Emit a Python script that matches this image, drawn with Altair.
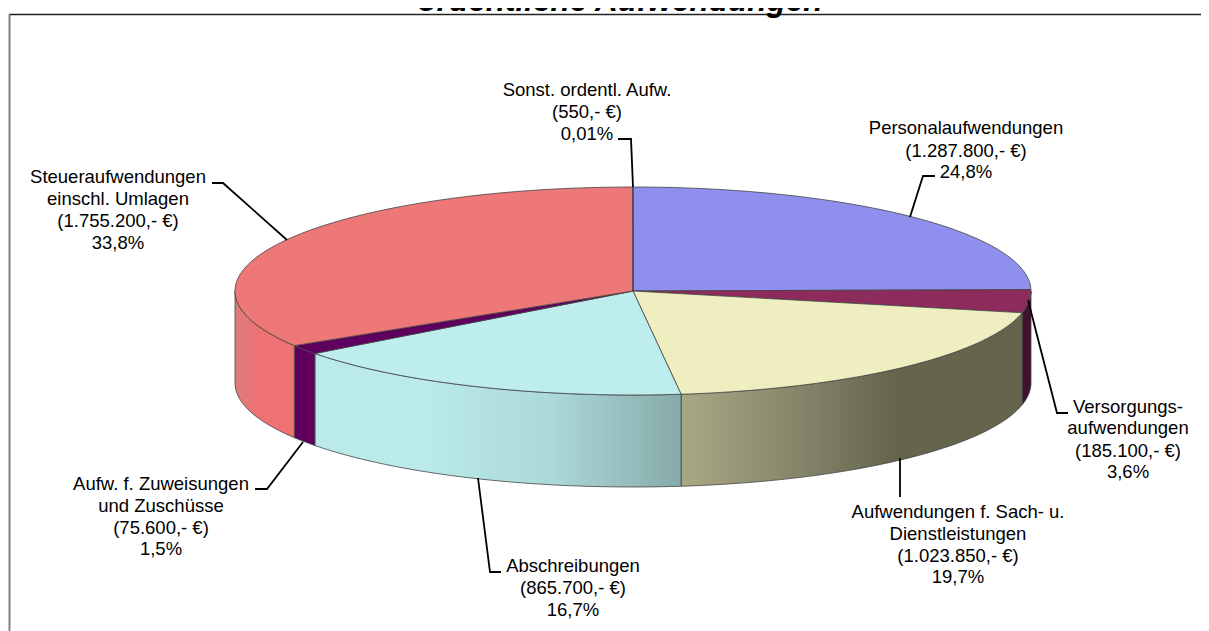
import math
import altair as alt
import pandas as pd

# --- chart values ---
names = ["Personal", "Versorgung", "Sach", "Abschreibung", "Zuweisung", "Steuer", "Sonstige"]
amounts = [1287800, 185100, 1023850, 865700, 75600, 1755200, 550]
top_colors = ["#8F8FEE", "#8D2B5C", "#EEEEC0", "#BDEDED", "#5F005F", "#EE7777", "#8F8FEE"]
wall_stops = {
    "Versorgung": [(0, "#3F1030"), (1, "#3F1030")],
    "Sach": [(0, "#A8A885"), (0.35, "#85856A"), (0.62, "#65654E"), (1, "#65654E")],
    "Abschreibung": [(0, "#BAEAEA"), (0.3, "#BAEAEA"), (0.65, "#ACD8D8"), (1, "#86A9A9")],
    "Zuweisung": [(0, "#5F005F"), (1, "#5F005F")],
    "Steuer": [(0, "#DC7C7C"), (0.4, "#EE7272"), (1, "#EE7272")],
}
label_lines = [
    ("Sonst. ordentl. Aufw.", 587, 90), ("(550,- €)", 587, 112), ("0,01%", 587, 134),
    ("Personalaufwendungen", 966, 128), ("(1.287.800,- €)", 966, 151), ("24,8%", 966, 172),
    ("Versorgungs-", 1128, 407), ("aufwendungen", 1128, 428), ("(185.100,- €)", 1128, 451), ("3,6%", 1128, 472),
    ("Aufwendungen f. Sach- u.", 958, 512), ("Dienstleistungen", 958, 534), ("(1.023.850,- €)", 958, 556), ("19,7%", 958, 577),
    ("Abschreibungen", 573, 566), ("(865.700,- €)", 573, 588), ("16,7%", 573, 610),
    ("Aufw. f. Zuweisungen", 161, 484), ("und Zuschüsse", 161, 506), ("(75.600,- €)", 161, 528), ("1,5%", 161, 549),
    ("Steueraufwendungen", 118, 177), ("einschl. Umlagen", 118, 199), ("(1.755.200,- €)", 118, 221), ("33,8%", 118, 243),
]
leaders = {
    "Sonstige": [(618, 139), (631, 139), (633, 187)],
    "Personal": [(935, 176), (923, 176), (910, 217)],
    "Versorgung": [(1068, 413), (1057, 413), (1028, 300)],
    "Sach": [(900, 458), (900, 497)],
    "Abschreibung": [(478, 478), (490, 572), (501, 572)],
    "Zuweisung": [(303, 442), (267, 489), (255, 489)],
    "Steuer": [(212, 183), (223, 183), (287, 240)],
}
title_text = "ordentliche Aufwendungen"

# --- pie projection ---
CX, CY, RX, RY, DEPTH = 633, 291, 398, 104, 92
W, H = 1193, 623
FONT = "Liberation Sans"
total = sum(amounts)

xs = alt.X("x:Q", scale=alt.Scale(domain=[8, 1201], nice=False, zero=False), axis=None)
ys = alt.Y("y:Q", scale=alt.Scale(domain=[631, 8], nice=False, zero=False), axis=None)
y2 = alt.Y2("y2:Q")


def rim(deg):
    a = math.radians(deg)
    return CX + RX * math.sin(a), CY - RY * math.cos(a)


def arc_angles(a0, a1):
    n = max(2, int((a1 - a0) / 1.5) + 1)
    return [a0 + (a1 - a0) * i / n for i in range(n + 1)]


walls, tops = [], []
start = 0.0
for name, amount, color in zip(names, amounts, top_colors):
    end = start + amount / total * 360
    # top face: centre -> rim -> centre
    pts = [(CX, CY)] + [rim(d) for d in arc_angles(start, end)] + [(CX, CY)]
    top_df = pd.DataFrame({"x": [p[0] for p in pts], "y": [p[1] for p in pts], "i": range(len(pts))})
    tops.append(
        alt.Chart(top_df)
        .mark_line(fill=color, stroke="#444444", strokeWidth=0.8, interpolate="linear")
        .encode(x=xs, y=ys, order="i:Q")
    )
    # visible side wall: front half of the rim only
    w0, w1 = max(start, 90), min(end, 270)
    if w1 > w0:
        rim_pts = [rim(d) for d in arc_angles(w0, w1)]
        wall_df = pd.DataFrame({
            "x": [p[0] for p in rim_pts],
            "y": [p[1] for p in rim_pts],
            "y2": [p[1] + DEPTH for p in rim_pts],
        })
        grad = alt.LinearGradient(
            gradient="linear", x1=0, x2=1, y1=0, y2=0,
            stops=[alt.GradientStop(offset=o, color=c) for o, c in wall_stops[name]],
        )
        walls.append(
            alt.Chart(wall_df)
            .mark_area(fill=grad, stroke="#444444", strokeWidth=0.8)
            .encode(x=xs, y=ys, y2=y2)
        )
    start = end

frame_top = alt.Chart(pd.DataFrame({"x": [9], "x2": [1201], "y": [14.5]})).mark_rule(
    color="#222222", strokeWidth=1.3).encode(x=xs, x2="x2:Q", y=ys)
frame_left = alt.Chart(pd.DataFrame({"x": [9.5], "y": [14.5], "y2": [631]})).mark_rule(
    color="#808080", strokeWidth=2).encode(x=xs, y=ys, y2=y2)

leader_rows = [
    {"name": k, "x": p[0], "y": p[1], "i": i} for k, v in leaders.items() for i, p in enumerate(v)
]
leader_layer = alt.Chart(pd.DataFrame(leader_rows)).mark_line(
    color="#000000", strokeWidth=1.8).encode(x=xs, y=ys, detail="name:N", order="i:Q")

labels = alt.Chart(pd.DataFrame(label_lines, columns=["t", "x", "y"])).mark_text(
    font=FONT, fontSize=18.5, align="center", baseline="middle", color="#000000"
).encode(x=xs, y=ys, text="t:N")

title = alt.Chart(pd.DataFrame({"t": [title_text], "x": [620], "y": [11]})).mark_text(
    font=FONT, fontSize=31.5, fontWeight="bold", fontStyle="italic", align="center",
    baseline="alphabetic", color="#000000"
).encode(x=xs, y=ys, text="t:N")

chart = alt.layer(
    frame_top, frame_left, *walls, *tops, leader_layer, labels, title
).properties(
    width=W, height=H, padding=0,
    autosize=alt.AutoSizeParams(type="none"),
).configure_view(stroke=None)

chart.save("out.html", embed_options={"renderer": "svg", "actions": False})
